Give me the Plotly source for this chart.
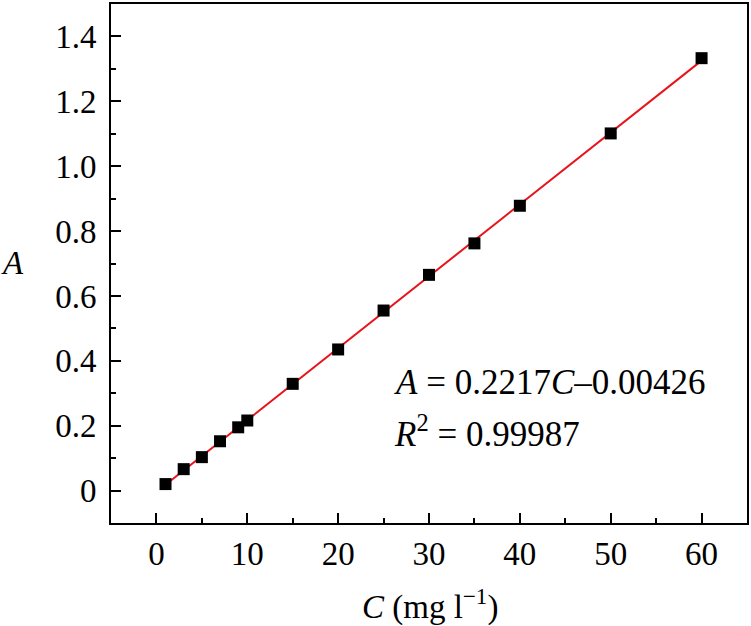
import numpy as np
import plotly.graph_objects as go

# concentration (mg l-1) and absorbance
conc = [1, 3, 5, 7, 9, 10, 15, 20, 25, 30, 35, 40, 50, 60]
absorb = [0.020, 0.066, 0.103, 0.152, 0.195, 0.216, 0.329, 0.435,
          0.555, 0.665, 0.762, 0.878, 1.101, 1.333]

x_ticks = [0, 10, 20, 30, 40, 50, 60]
y_ticks = [0, 0.2, 0.4, 0.6, 0.8, 1.0, 1.2, 1.4]
y_labels = ["0", "0.2", "0.4", "0.6", "0.8", "1.0", "1.2", "1.4"]

eq_text = "<i>A</i> = 0.2217<i>C</i>\u20130.00426"
r2_text = "<i>R</i><sup>2</sup> = 0.99987"

# linear fit for the red line
slope, icpt = np.polyfit(conc, absorb, 1)
fit_x = [conc[0], conc[-1]]
fit_y = [slope * v + icpt for v in fit_x]

font = "Liberation Serif, Times New Roman, serif"
fsize = 33

fig = go.Figure()
fig.add_trace(go.Scatter(x=fit_x, y=fit_y, mode="lines",
                         line=dict(color="#e8141c", width=2), showlegend=False))
fig.add_trace(go.Scatter(x=conc, y=absorb, mode="markers",
                         marker=dict(symbol="square", size=12, color="black"),
                         showlegend=False))

axis_common = dict(showline=True, linecolor="black", linewidth=2, mirror=True,
                   ticks="inside", ticklen=10, tickwidth=2, tickcolor="black",
                   showgrid=False, zeroline=False,
                   tickfont=dict(family=font, size=fsize, color="black"))

fig.update_xaxes(range=[-5, 65], tickvals=x_ticks, ticklabelstandoff=0,
                 minor=dict(ticks="inside", ticklen=5, tickwidth=2, dtick=5,
                            tick0=5, tickcolor="black"),
                 **axis_common)
fig.update_yaxes(range=[-0.1, 1.5], tickvals=y_ticks, ticktext=y_labels,
                 ticklabelstandoff=6,
                 minor=dict(ticks="inside", ticklen=5, tickwidth=2, dtick=0.1,
                            tick0=0.1, tickcolor="black"),
                 **axis_common)

# fit equation, slightly larger so it spans like the original
fig.add_annotation(text=eq_text, x=25.9, y=0.332, xref="x", yref="y",
                   xanchor="left", yanchor="middle", showarrow=False,
                   font=dict(family=font, size=35, color="black"))
fig.add_annotation(text=r2_text, x=25.9, y=0.182, xref="x", yref="y",
                   xanchor="left", yanchor="middle", showarrow=False,
                   font=dict(family=font, size=35, color="black"))

# axis titles
fig.add_annotation(text="<i>A</i>", x=-0.155, y=0.501, xref="paper", yref="paper",
                   xanchor="center", yanchor="middle", showarrow=False,
                   font=dict(family=font, size=fsize, color="black"))
fig.add_annotation(text="<i>C</i> (mg l<sup>\u22121</sup>)", x=0.502, y=-0.157,
                   xref="paper", yref="paper", xanchor="center", yanchor="middle",
                   showarrow=False, font=dict(family=font, size=fsize, color="black"))

fig.update_layout(width=751, height=626, plot_bgcolor="white", paper_bgcolor="white",
                  margin=dict(l=111, r=3, t=2, b=103))
fig.write_html("out.html", config={"displayModeBar": False},
               post_script="document.body.style.margin='0';document.body.style.overflow='hidden';")
